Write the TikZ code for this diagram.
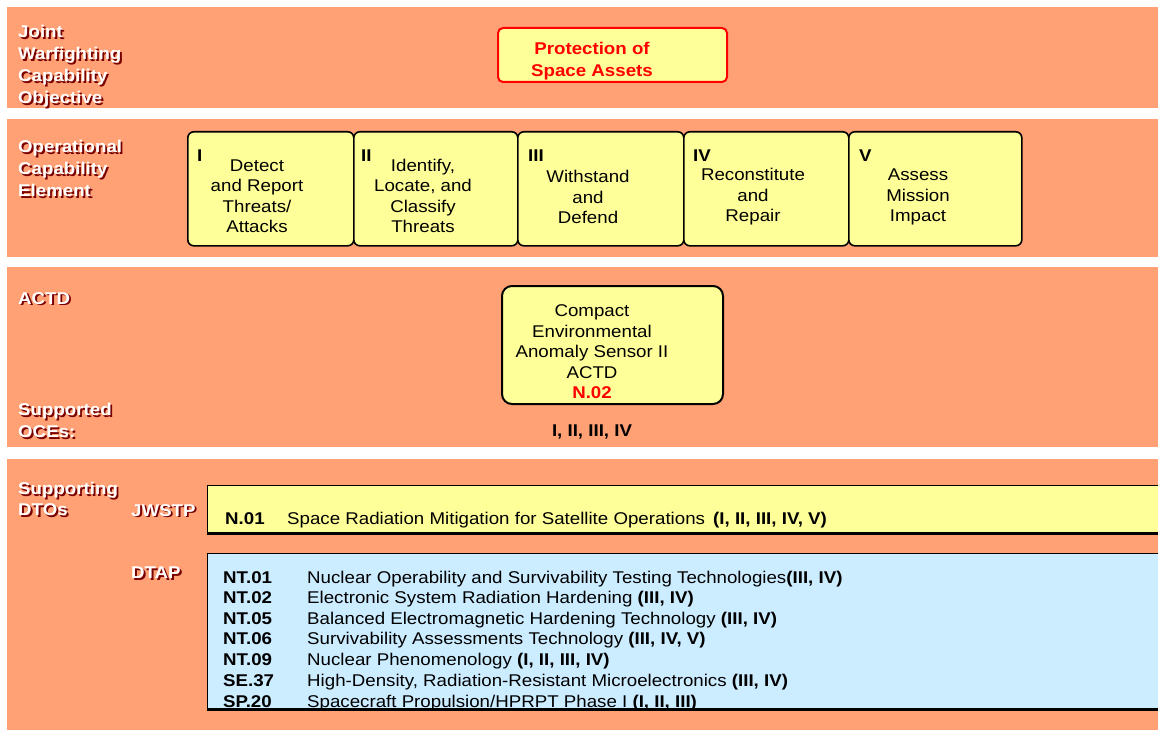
\documentclass[tikz,border=0pt]{standalone}
\usepackage{fontspec}
\setmainfont{Liberation Sans}[FakeStretch=1.1]
\definecolor{salmon}{RGB}{255,161,116}
\definecolor{boxyellow}{RGB}{255,255,153}
\definecolor{boxblue}{RGB}{204,236,255}
\definecolor{shadowred}{RGB}{120,0,0}
\definecolor{titlered}{RGB}{255,0,0}
\newcommand\shadowlabel[4]{%
  \node[lbl, text=shadowred] (#1s) at (#2+1.8,#3+1.8) {#4};
  \node[lbl, text=white] (#1) at (#2,#3) {#4};}
\tikzset{
  lbl/.style={font=\bfseries\fontsize{17}{22}\selectfont, align=left, anchor=north west, inner sep=0pt},
  ocebox/.style={draw=black, line width=1.6pt, fill=boxyellow, rounded corners=6pt, minimum width=#1, minimum height=114pt, anchor=north west, inner sep=0pt},
  body/.style={font=\fontsize{17}{20.5}\selectfont, align=center, inner sep=0pt},
  num/.style={font=\bfseries\fontsize{17}{20}\selectfont, anchor=base west, inner sep=0pt},
  row/.style={font=\fontsize{17}{20}\selectfont, anchor=base west, inner sep=0pt},
  code/.style={font=\bfseries\fontsize{17}{20}\selectfont, anchor=base west, inner sep=0pt},
}
\begin{document}
\begin{tikzpicture}[x=1pt,y=-1pt]
\useasboundingbox (0,0) rectangle (1158,730);
\fill[white] (0,0) rectangle (1158,730);
% bands
\fill[salmon] (7,7) rectangle (1158,108.5);
\fill[salmon] (7,119) rectangle (1158,257);
\fill[salmon] (7,267) rectangle (1158,447);
\fill[salmon] (7,459) rectangle (1158,730);
% left labels
\shadowlabel{jwco}{18}{25}{Joint\\Warfighting\\Capability\\Objective}
\shadowlabel{oce}{18}{140}{Operational\\Capability\\Element}
\shadowlabel{actd}{18}{292}{ACTD}
\shadowlabel{supd}{18}{403}{Supported\\OCEs:}
\node[lbl, text=shadowred, font=\bfseries\fontsize{17}{21}\selectfont] (suppgs) at (19.8,483.8) {Supporting\\DTOs};
\node[lbl, text=white, font=\bfseries\fontsize{17}{21}\selectfont] (suppg) at (18,482) {Supporting\\DTOs};
\shadowlabel{jwstp}{131}{504}{JWSTP}
\shadowlabel{dtap}{131}{567}{DTAP}
% objective
\node[draw=titlered, line width=2pt, fill=boxyellow, rounded corners=5pt, minimum width=229pt, minimum height=54pt, anchor=north west, inner sep=0pt] (prot) at (497,27) {};
\node[font=\bfseries\fontsize{17}{22}\selectfont, text=titlered, align=center, inner sep=0pt] (prott) at (592,61) {Protection of\\Space Assets};
% OCE boxes
\node[ocebox=166pt] (o1) at (187,131) {};
\node[ocebox=164pt] (o2) at (353,131) {};
\node[ocebox=166pt] (o3) at (517,131) {};
\node[ocebox=165pt] (o4) at (683,131) {};
\node[ocebox=173pt] (o5) at (848,131) {};
\node[num] (n1) at (197,161) {I};
\node[num] (n2) at (361,161) {II};
\node[num] (n3) at (528,161) {III};
\node[num] (n4) at (693,161) {IV};
\node[num] (n5) at (859,161) {V};
\node[body] (t1) at (257,196) {Detect\\and Report\\Threats/\\Attacks};
\node[body] (t2) at (423,196) {Identify,\\Locate, and\\Classify\\Threats};
\node[body] (t3) at (588,197) {Withstand\\and\\Defend};
\node[body] (t4) at (753,197) {Reconstitute\\and\\Repair};
\node[body] (t5) at (918,197) {Assess\\Mission\\Impact};
% ACTD
\node[draw=black, line width=2pt, fill=boxyellow, rounded corners=10pt, minimum width=221pt, minimum height=118pt, anchor=north west, inner sep=0pt] (actdbox) at (501,285) {};
\node[body] (actdt) at (592,352) {Compact\\Environmental\\Anomaly Sensor II\\ACTD\\\textcolor{titlered}{\bfseries N.02}};
\node[font=\bfseries\fontsize{17}{20}\selectfont, inner sep=0pt] (supoce) at (592,432) {I, II, III, IV};
% JWSTP box
\node[draw=black, line width=1.2pt, fill=boxyellow, minimum width=960pt, minimum height=47pt, anchor=north west, inner sep=0pt] (jwbox) at (207,485) {};
\draw[line width=2.8pt] (jwbox.south west) -- (jwbox.south east);
\node[code] (j1c) at (225,524) {N.01};
\node[row] (j1d) at (287,524) {Space Radiation Mitigation for Satellite Operations};
\node[code] (j1a) at (713,524) {(I, II, III, IV, V)};
% DTAP box
\node[draw=black, line width=1.2pt, fill=boxblue, minimum width=960pt, minimum height=155.5pt, anchor=north west, inner sep=0pt] (dtbox) at (207,553) {};
\node[code] (d1c) at (223,583) {NT.01};
\node[row] (d1d) at (307,583) {Nuclear Operability and Survivability Testing Technologies\textbf{(III, IV)}};
\node[code] (d2c) at (223,603) {NT.02};
\node[row] (d2d) at (307,603) {Electronic System Radiation Hardening \textbf{(III, IV)}};
\node[code] (d3c) at (223,624) {NT.05};
\node[row] (d3d) at (307,624) {Balanced Electromagnetic Hardening Technology \textbf{(III, IV)}};
\node[code] (d4c) at (223,644) {NT.06};
\node[row] (d4d) at (307,644) {Survivability Assessments Technology \textbf{(III, IV, V)}};
\node[code] (d5c) at (223,665) {NT.09};
\node[row] (d5d) at (307,665) {Nuclear Phenomenology \textbf{(I, II, III, IV)}};
\node[code] (d6c) at (223,686) {SE.37};
\node[row] (d6d) at (307,686) {High-Density, Radiation-Resistant Microelectronics \textbf{(III, IV)}};
\node[code] (d7c) at (223,707) {SP.20};
\node[row] (d7d) at (307,707) {Spacecraft Propulsion/HPRPT Phase I \textbf{(I, II, III)}};
\draw[line width=2.8pt] (dtbox.south west) -- (dtbox.south east);
\end{tikzpicture}
\end{document}
